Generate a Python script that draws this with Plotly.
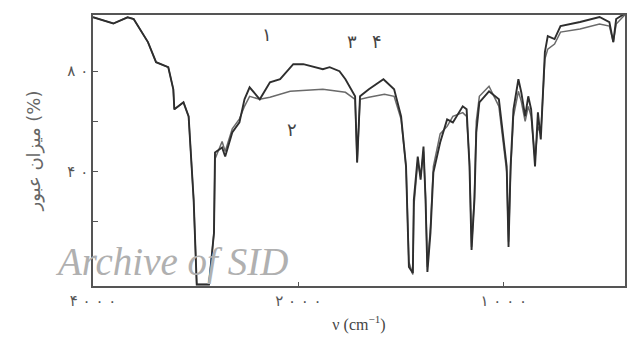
import numpy as np
import plotly.graph_objects as go

# Curve 1 (upper in 2400-1500 region)
wn1 = [4000, 3802, 3663, 3604, 3465, 3386, 3267, 3218, 3208, 3119, 3069, 3040, 3020, 2990,
       2871, 2822, 2812, 2743, 2713, 2644, 2574, 2525, 2475, 2376, 2277, 2178, 2050, 1976,
       1881, 1848, 1800, 1771, 1724, 1714, 1700, 1657, 1586, 1534, 1500, 1476, 1462, 1443,
       1438, 1419, 1405, 1391, 1381, 1372, 1357, 1343, 1310, 1276, 1248, 1200, 1181, 1167,
       1157, 1143, 1134, 1119, 1072, 1024, 1010, 986, 977, 967, 953, 929, 915, 896, 881,
       867, 848, 834, 820, 800, 786, 753, 724, 629, 534, 486, 467, 453, 410]
tr1 = [101.5, 99, 101.5, 100.8, 91.6, 83.6, 81.6, 72.8, 64.8, 67.6, 62, 44.8, 28.8, -5,
       -5, 15.6, 47.6, 49.6, 46, 55.6, 59.6, 68.8, 73.6, 68.8, 75.6, 76.8, 82.8, 82.8,
       80.8, 81.6, 80, 76.8, 70, 43.6, 70, 72.8, 76.8, 72.8, 62, 42, 2, -0.4,
       28.8, 46, 36.8, 50, 28.8, 0, 15.6, 39.6, 51.6, 60.8, 59.6, 66, 64.8, 42,
       8.8, 28.8, 55.6, 67.6, 72, 68.8, 58, 42, 10, 42, 64.8, 76.8, 71.6, 62, 70,
       64.8, 42, 63.6, 52.8, 87.6, 94, 92.8, 98, 99.6, 101.6, 99.6, 91.6, 100.8, 103]

# Curve 2 (lower in 2400-1500 region, and beyond 800)
wn2 = [4000, 3802, 3663, 3604, 3465, 3386, 3267, 3218, 3208, 3119, 3069, 3040, 3020, 2990,
       2871, 2822, 2812, 2743, 2713, 2644, 2574, 2525, 2475, 2376, 2277, 2080, 1881, 1771,
       1724, 1714, 1700, 1657, 1581, 1534, 1500, 1476, 1462, 1443, 1438, 1419, 1405, 1391,
       1381, 1372, 1357, 1343, 1310, 1276, 1248, 1200, 1181, 1167, 1157, 1143, 1134, 1119,
       1072, 1024, 1010, 986, 977, 967, 953, 929, 915, 896, 881, 867, 848, 834, 820, 800,
       786, 753, 724, 629, 534, 486, 467, 453, 410]
tr2 = [101.5, 99, 101.5, 100.8, 91.6, 83.6, 81.6, 72.8, 64.8, 67.6, 62, 44.8, 28.8, -5,
       -5, 15.6, 45, 52, 48, 57, 61, 66, 70, 68.8, 69.6, 72, 72.8, 71.6,
       68.8, 43.6, 68.8, 69.6, 70.8, 70, 60.8, 42, 4, -1,
       26, 44, 38, 48, 30, 2, 18, 42, 55, 58, 62, 63.5, 62, 44,
       10, 30, 60, 70, 74, 66, 56, 40, 12, 40, 62, 72, 68, 60, 66,
       62, 45, 58, 55, 84.8, 88.8, 90.8, 95.6, 96.8, 98.8, 98, 91.6, 98.8, 102.5]

x_tickvals = [4000, 2000, 1000]
x_ticktext = ["۴ ۰ ۰ ۰", "۲ ۰ ۰ ۰", "۱ ۰ ۰ ۰"]
y_tickvals = [80, 40]
y_ticktext = ["۸ ۰", "۴ ۰"]
y_minor_ticks = [60, 20]


def to_u(wn):
    wn = np.asarray(wn, dtype=float)
    return np.where(wn > 2000, 2000 + (wn - 2000) / 2, wn)


fig = go.Figure()
fig.add_trace(go.Scatter(x=to_u(wn2), y=tr2, mode="lines",
                         line=dict(color="#6a6a6a", width=1.5), showlegend=False))
fig.add_trace(go.Scatter(x=to_u(wn1), y=tr1, mode="lines",
                         line=dict(color="#2e2e2e", width=1.9), showlegend=False))

lab_font = dict(family="DejaVu Sans", size=18, color="#444")
for txt, wn, yv in [("۱", 2302, 94.8), ("۳", 1739, 92), ("۴", 1618, 92), ("۲", 2060, 56.8)]:
    fig.add_annotation(x=float(to_u([wn])[0]), y=yv, text=txt, showarrow=False, font=lab_font)

fig.add_annotation(xref="paper", yref="paper", x=-0.075, y=0.09, xanchor="left", yanchor="middle",
                   text="<i>Archive of SID</i>", showarrow=False,
                   font=dict(family="Liberation Serif", size=39, color="#b0b0b0"))

fig.update_layout(
    width=630, height=341,
    margin=dict(l=93, r=3, t=15, b=55),
    paper_bgcolor="white", plot_bgcolor="white",
    xaxis=dict(range=[3000, 410], tickvals=list(to_u(x_tickvals)), ticktext=x_ticktext,
               ticks="inside", ticklen=4, tickcolor="#555", showgrid=False, zeroline=False,
               showline=True, mirror=True, linecolor="#555", linewidth=1.5,
               tickfont=dict(family="DejaVu Sans", size=15, color="#555"),
               title=dict(text="ν (cm<sup>−1</sup>)", standoff=10,
                          font=dict(family="Liberation Serif", size=16, color="#444"))),
    yaxis=dict(range=[-5.6, 102.4], tickvals=y_tickvals, ticktext=y_ticktext,
               ticks="inside", ticklen=5, tickcolor="#555", showgrid=False, zeroline=False,
               showline=True, mirror=True, linecolor="#555", linewidth=1.5,
               minor=dict(tickvals=y_minor_ticks, ticks="inside", ticklen=5, tickcolor="#555"),
               tickfont=dict(family="DejaVu Sans", size=15, color="#555"),
               title=dict(text="میزان عبور (%)", standoff=22,
                          font=dict(family="DejaVu Sans", size=18, color="#666"))),
)

fig.write_html("out.html")
